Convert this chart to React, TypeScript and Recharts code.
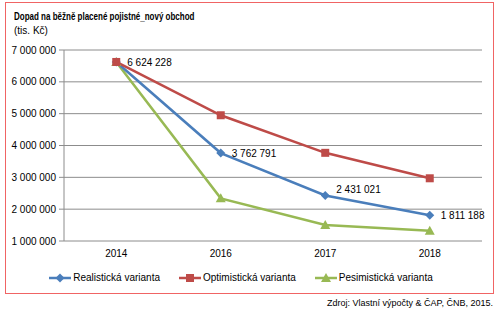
import { LineChart, Line, XAxis, YAxis, CartesianGrid, Legend, LabelList } from "recharts";

const years = ["2014", "2016", "2017", "2018"];
const realisticka = [6624228, 3762791, 2431021, 1811188];
const optimisticka = [6624228, 4950000, 3770000, 2970000];
const pesimisticka = [6624228, 2340000, 1500000, 1320000];
const yTicks = [1000000, 2000000, 3000000, 4000000, 5000000, 6000000, 7000000];

const BLUE = "#4A7EBB";
const RED = "#BE4B48";
const GREEN = "#98B954";
const FONT = "'Liberation Sans', Arial, sans-serif";

const data = years.map((y, i) => ({
    year: y,
    idx: i + 0.5,
    real: realisticka[i],
    opt: optimisticka[i],
    pes: pesimisticka[i],
}));

// nbsp keeps recharts from wrapping "7 000 000"
const fmt = (v: number) => Math.round(v).toString().replace(/\B(?=(\d{3})+(?!\d))/g, "\u00A0");

const Diamond = ({ cx, cy, fill }: any) => (
    <path d={`M${cx},${cy - 4.5}L${cx + 4.5},${cy}L${cx},${cy + 4.5}L${cx - 4.5},${cy}Z`} fill={fill} />
);
const Square = ({ cx, cy, fill }: any) => (
    <rect x={cx - 4} y={cy - 4} width={8} height={8} fill={fill} />
);
const Triangle = ({ cx, cy, fill }: any) => (
    <path d={`M${cx},${cy - 5}L${cx + 5},${cy + 4}L${cx - 5},${cy + 4}Z`} fill={fill} />
);

const series = [
    { key: "real", name: "Realistická varianta", color: BLUE, Marker: Diamond },
    { key: "opt", name: "Optimistická varianta", color: RED, Marker: Square },
    { key: "pes", name: "Pesimistická varianta", color: GREEN, Marker: Triangle },
];

const LegendContent = () => (
    <div
        style={{
            display: "flex",
            justifyContent: "center",
            gap: 19,
            paddingTop: 6,
            fontFamily: FONT,
            fontSize: 10,
            color: "#000",
        }}
    >
        {series.map((s) => (
            <div key={s.key} style={{ display: "flex", alignItems: "center" }}>
                <svg width={22} height={10} style={{ marginRight: 2 }}>
                    <line x1={0} y1={5} x2={22} y2={5} stroke={s.color} strokeWidth={2.5} />
                    <s.Marker cx={11} cy={5} fill={s.color} />
                </svg>
                <span>{s.name}</span>
            </div>
        ))}
    </div>
);

// data label to the right of the point, the 2017 one nudged up off the line
const PointLabel = (props: any) => {
    const { x, y, width, height, value, index } = props;
    const lift = index === 2 ? -6 : 0;
    return (
        <text
            x={x + width + 11}
            y={y + height / 2 + lift}
            dy="0.355em"
            fontFamily={FONT}
            fontSize={10}
            fill="#000"
        >
            {fmt(Number(value))}
        </text>
    );
};

export default function App() {
    return (
        <div style={{ position: "absolute", left: 0, top: 0, width: 500, height: 324, background: "#fff" }}>
            <div
                style={{
                    position: "absolute",
                    left: 5,
                    top: 2,
                    width: 487,
                    height: 290,
                    border: "1.5px solid #F06464",
                }}
            />
            <div
                style={{
                    position: "absolute",
                    left: 14,
                    top: 11,
                    fontFamily: FONT,
                    fontSize: 10,
                    fontWeight: "bold",
                    whiteSpace: "nowrap",
                    transform: "scaleX(0.8)",
                    transformOrigin: "left",
                }}
            >
                Dopad na běžně placené pojistné_nový obchod
            </div>
            <div style={{ position: "absolute", left: 14, top: 25, fontFamily: FONT, fontSize: 10, whiteSpace: "nowrap" }}>
                (tis. Kč)
            </div>
            <div style={{ position: "absolute", left: 0, top: 0 }}>
                <LineChart width={500} height={300} data={data} margin={{ top: 50, right: 18, left: 0, bottom: 12 }}>
                    <CartesianGrid horizontal vertical={false} stroke="#8C8C8C" xAxisId="num" />
                    <XAxis
                        xAxisId="num"
                        type="number"
                        dataKey="idx"
                        domain={[0, 4]}
                        ticks={[0, 1, 2, 3, 4]}
                        tick={false}
                        height={0}
                        stroke="#8C8C8C"
                        tickSize={5}
                    />
                    <XAxis
                        xAxisId="lab"
                        type="number"
                        dataKey="idx"
                        domain={[0, 4]}
                        ticks={[0.5, 1.5, 2.5, 3.5]}
                        tickFormatter={(v: number) => years[Math.floor(v)]}
                        axisLine={false}
                        tickLine={false}
                        height={25}
                        tickMargin={3}
                        tick={{ fontFamily: FONT, fontSize: 10, fill: "#000" }}
                    />
                    <YAxis
                        width={64}
                        domain={[1000000, 7000000]}
                        ticks={yTicks}
                        tickFormatter={fmt}
                        stroke="#8C8C8C"
                        tickSize={5}
                        tickMargin={3}
                        interval={0}
                        tick={{ fontFamily: FONT, fontSize: 10, fill: "#000" }}
                    />
                    <Legend verticalAlign="bottom" height={22} content={<LegendContent />} />
                    <Line
                        xAxisId="num"
                        dataKey="pes"
                        name="Pesimistická varianta"
                        stroke={GREEN}
                        strokeWidth={2.5}
                        dot={(p: any) => <Triangle key={p.index} cx={p.cx} cy={p.cy} fill={GREEN} />}
                        isAnimationActive={false}
                    />
                    <Line
                        xAxisId="num"
                        dataKey="real"
                        name="Realistická varianta"
                        stroke={BLUE}
                        strokeWidth={2.5}
                        dot={(p: any) => <Diamond key={p.index} cx={p.cx} cy={p.cy} fill={BLUE} />}
                        isAnimationActive={false}
                    >
                        <LabelList dataKey="real" content={<PointLabel />} />
                    </Line>
                    <Line
                        xAxisId="num"
                        dataKey="opt"
                        name="Optimistická varianta"
                        stroke={RED}
                        strokeWidth={2.5}
                        dot={(p: any) => <Square key={p.index} cx={p.cx} cy={p.cy} fill={RED} />}
                        isAnimationActive={false}
                    />
                </LineChart>
            </div>
            <div
                style={{
                    position: "absolute",
                    right: 7,
                    top: 298,
                    fontFamily: FONT,
                    fontSize: 9,
                    whiteSpace: "nowrap",
                }}
            >
                Zdroj: Vlastní výpočty &amp; ČAP, ČNB, 2015.
            </div>
        </div>
    );
}
